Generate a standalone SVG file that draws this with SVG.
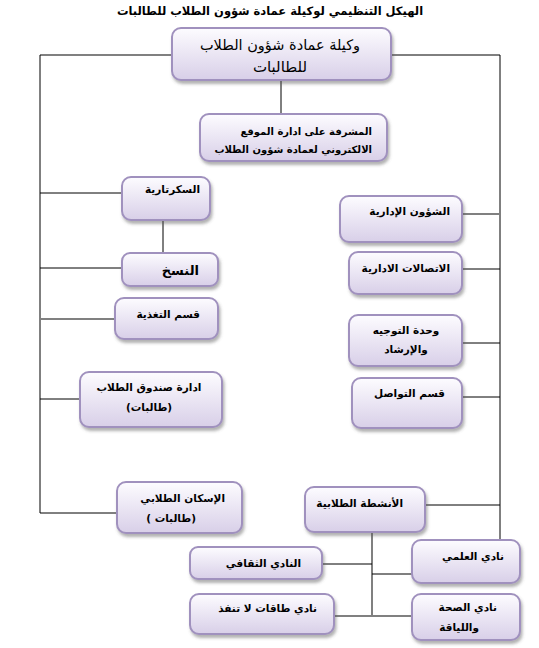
<svg xmlns="http://www.w3.org/2000/svg" width="539" height="648" viewBox="0 0 539 648">
<defs>
<linearGradient id="g" x1="0" y1="0" x2="0" y2="1">
<stop offset="0" stop-color="#fdfcff"/>
<stop offset="1" stop-color="#d8cfe8"/>
</linearGradient>
<filter id="sh" x="-10%" y="-10%" width="125%" height="135%">
<feDropShadow dx="1.5" dy="3" stdDeviation="1.8" flood-color="#555" flood-opacity="0.45"/>
</filter>
<style>
.box{fill:url(#g);stroke:#a091be;stroke-width:2;filter:url(#sh)}
.t{font-family:"DejaVu Sans",sans-serif;font-size:10.5px;font-weight:bold;fill:#000}
.c{stroke:#000;stroke-width:1;fill:none}
.cg{stroke:#808080;stroke-width:2;fill:none}
</style>
</defs>
<rect width="539" height="648" fill="#fff"/>
<text x="270" y="15" text-anchor="middle" style="font-family:'DejaVu Sans',sans-serif;font-size:11.5px;font-weight:bold">الهيكل التنظيمي لوكيلة عمادة شؤون الطلاب للطالبات</text>
<g id="connectors">
<line class="cg" x1="40" y1="55" x2="172" y2="55"/>
<line class="c" x1="40" y1="55" x2="40" y2="513"/>
<line class="c" x1="391" y1="55" x2="500" y2="55"/>
<line class="c" x1="500" y1="55" x2="500" y2="540"/>
<line class="c" x1="281" y1="80" x2="281" y2="114"/>
<line class="c" x1="40" y1="193" x2="122" y2="193"/>
<line class="c" x1="163" y1="220" x2="163" y2="253"/>
<line class="c" x1="40" y1="268" x2="122" y2="268"/>
<line class="cg" x1="40" y1="319" x2="115" y2="319"/>
<line class="c" x1="40" y1="399" x2="80" y2="399"/>
<line class="c" x1="40" y1="513" x2="117" y2="513"/>
<line class="cg" x1="462" y1="214" x2="500" y2="214"/>
<line class="c" x1="462" y1="269" x2="500" y2="269"/>
<line class="c" x1="462" y1="343" x2="500" y2="343"/>
<line class="c" x1="462" y1="397" x2="500" y2="397"/>
<line class="c" x1="425" y1="505" x2="500" y2="505"/>
<line class="cg" x1="372" y1="532" x2="372" y2="617"/>
<line class="c" x1="322" y1="564" x2="372" y2="564"/>
<line class="c" x1="372" y1="574" x2="412" y2="574"/>
<line class="cg" x1="334" y1="616" x2="372" y2="616"/>
<line class="cg" x1="372" y1="616" x2="412" y2="616"/>
</g>
<g id="n-top">
<rect class="box" x="172" y="28" width="219" height="52" rx="9"/>
<text x="280" y="50" text-anchor="middle" style="font-family:'DejaVu Sans',sans-serif;font-size:14.5px">وكيلة عمادة شؤون الطلاب</text>
<text x="280" y="72" text-anchor="middle" style="font-family:'DejaVu Sans',sans-serif;font-size:15px">للطالبات</text>
</g>
<g id="n-web">
<rect class="box" x="200" y="114" width="187" height="47" rx="9"/>
<text class="t" x="372" y="135" text-anchor="end" style="font-size:10px">المشرفة  على ادارة  الموقع</text>
<text class="t" x="372" y="153" text-anchor="end" style="font-size:10px">الالكتروني لعمادة شؤون الطلاب</text>
</g>
<g id="n-sec">
<rect class="box" x="122" y="177" width="88" height="43" rx="9"/>
<text class="t" x="200" y="193" text-anchor="end">السكرتارية</text>
</g>
<g id="n-copy">
<rect class="box" x="122" y="253" width="96" height="33" rx="8"/>
<text class="t" x="199" y="275" text-anchor="end" style="font-size:13px">النسخ</text>
</g>
<g id="n-food">
<rect class="box" x="115" y="298" width="103" height="41" rx="9"/>
<text class="t" x="200" y="318" text-anchor="end">قسم التغذية</text>
</g>
<g id="n-fund">
<rect class="box" x="80" y="372" width="142" height="55" rx="9"/>
<text class="t" x="149" y="391" text-anchor="middle">ادارة صندوق الطلاب</text>
<text class="t" x="149" y="411" text-anchor="middle">(طالبات)</text>
</g>
<g id="n-housing">
<rect class="box" x="117" y="482" width="125" height="51" rx="9"/>
<text class="t" x="225" y="502" text-anchor="end">الإسكان الطلابي</text>
<text class="t" x="196" y="522" text-anchor="end">( طالبات)</text>
</g>
<g id="n-admin">
<rect class="box" x="340" y="196" width="122" height="46" rx="9"/>
<text class="t" x="450" y="215" text-anchor="end">الشؤون الإدارية</text>
</g>
<g id="n-comm">
<rect class="box" x="349" y="252" width="113" height="42" rx="9"/>
<text class="t" x="450" y="272" text-anchor="end">الاتصالات الادارية</text>
</g>
<g id="n-guide">
<rect class="box" x="349" y="315" width="113" height="51" rx="9"/>
<text class="t" x="406" y="334" text-anchor="middle">وحدة التوجيه</text>
<text class="t" x="406" y="353" text-anchor="middle">والإرشاد</text>
</g>
<g id="n-contact">
<rect class="box" x="352" y="378" width="110" height="50" rx="9"/>
<text class="t" x="445" y="397" text-anchor="end">قسم  التواصل</text>
</g>
<g id="n-act">
<rect class="box" x="305" y="487" width="120" height="45" rx="9"/>
<text class="t" x="403" y="507" text-anchor="end">الأنشطة الطلابية</text>
</g>
<g id="n-culture">
<rect class="box" x="190" y="547" width="132" height="32" rx="8"/>
<text class="t" x="301" y="567" text-anchor="end">النادي الثقافي</text>
</g>
<g id="n-science">
<rect class="box" x="412" y="540" width="108" height="43" rx="9"/>
<text class="t" x="504" y="560" text-anchor="end">نادي العلمي</text>
</g>
<g id="n-energy">
<rect class="box" x="190" y="594" width="144" height="40" rx="9"/>
<text class="t" x="317" y="612" text-anchor="end">نادي طاقات لا تنفذ</text>
</g>
<g id="n-health">
<rect class="box" x="412" y="594" width="108" height="46" rx="9"/>
<text class="t" x="497" y="611" text-anchor="end">نادي الصحة</text>
<text class="t" x="479" y="631" text-anchor="end">واللياقة</text>
</g>
</svg>
